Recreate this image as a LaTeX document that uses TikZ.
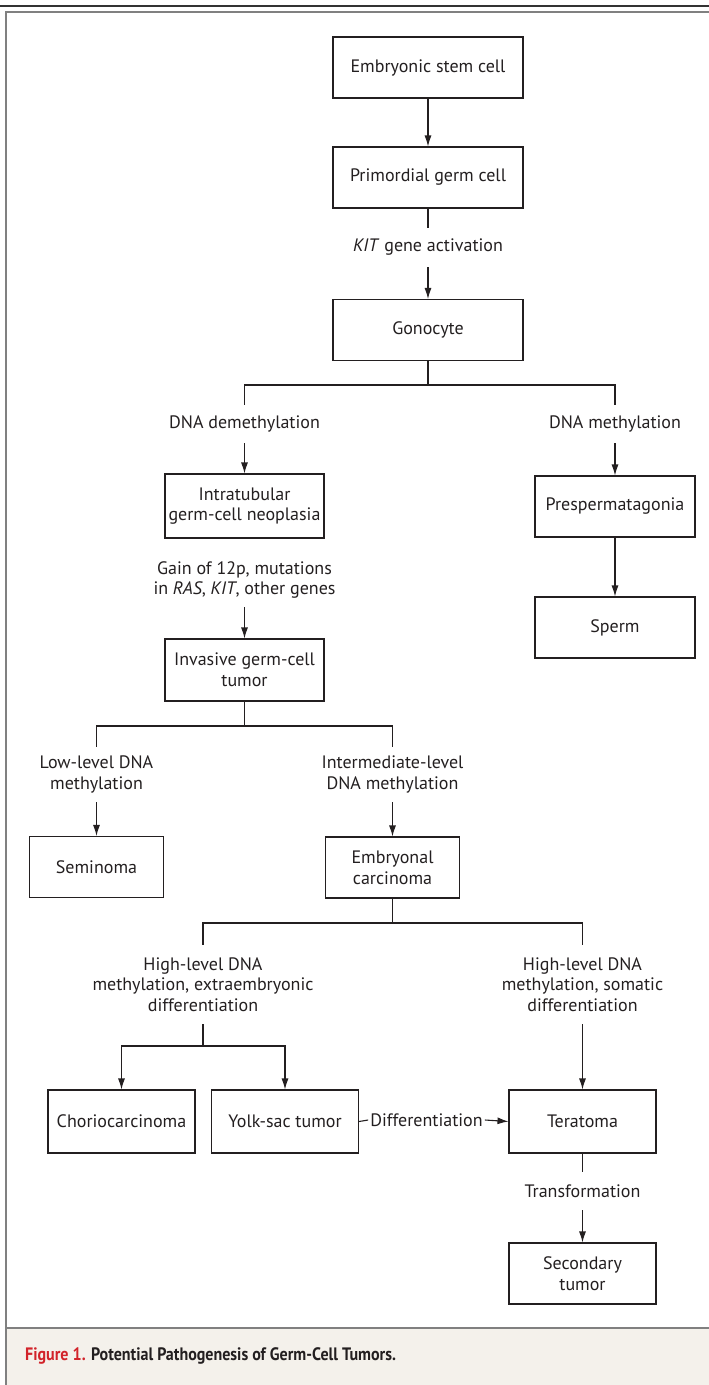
\documentclass[tikz,border=0pt]{standalone}
\usepackage{fontspec}
\setmainfont{PT Sans}
\usetikzlibrary{arrows.meta}
\definecolor{capred}{HTML}{D2232A}
\definecolor{capfill}{HTML}{F4F1EB}
\definecolor{ink}{HTML}{231F20}
\begin{document}
\begin{tikzpicture}[x=1pt, y=-1pt, >={Latex[length=11pt,width=7pt]}]

  \tikzstyle{cell} = [draw=ink, line width=1.1, minimum height=61, inner sep=0, align=center, font=\fontsize{18}{20.7}\selectfont, text=ink]
  \tikzstyle{event} = [inner xsep=2, inner ysep=0, align=center, font=\fontsize{18}{20.7}\selectfont, text=ink]
  \tikzstyle{link} = [draw=ink, line width=1.1]

  \useasboundingbox (0,0) rectangle (709,1385);

  \fill[capfill] (6,1328) rectangle (709,1385);
  \draw[line width=1.5, black!80] (0,6) -- (709,6);
  \draw[line width=2.5, black!50] (6,1385) -- (6,12) -- (709,12);
  \draw[line width=2.5, black!50] (6,1328) -- (709,1328);
  \node[anchor=west, inner sep=0, font=\bfseries\fontsize{18}{20}\selectfont, text=ink] (caption) at (25,1356) {\scalebox{0.89}[1]{\textcolor{capred}{Figure 1.} Potential Pathogenesis of Germ-Cell Tumors.}};

  \node[cell, minimum width=190] (esc) at (428,67.5) {Embryonic stem cell};
  \node[cell, minimum width=190] (pgc) at (428,177.5) {Primordial germ cell};
  \node[cell, minimum width=190] (gono) at (428,330) {Gonocyte};
  \node[cell, minimum width=159, minimum height=64] (itgcn) at (244.5,506) {Intratubular\\germ-cell neoplasia};
  \node[cell, minimum width=160] (presp) at (615,506.5) {Prespermatagonia};
  \node[cell, minimum width=160] (sperm) at (615,627.5) {Sperm};
  \node[cell, minimum width=159, minimum height=62] (igct) at (244.5,670) {Invasive germ-cell\\tumor};
  \node[cell, minimum width=134] (semi) at (96.5,867) {Seminoma};
  \node[cell, minimum width=134] (embca) at (392.5,867.5) {Embryonal\\carcinoma};
  \node[cell, minimum width=147, minimum height=63] (chorio) at (121.5,1121.5) {Choriocarcinoma};
  \node[cell, minimum width=147, minimum height=63] (yolk) at (285,1121.5) {Yolk-sac tumor};
  \node[cell, minimum width=147, minimum height=63] (terat) at (582.5,1121.5) {Teratoma};
  \node[cell, minimum width=147] (sectum) at (582.5,1273.5) {Secondary\\tumor};

  \node[event, minimum height=39] (kitact) at (428,247.5) {\textit{KIT} gene activation};
  \node[event, minimum height=38] (demeth) at (244.5,424) {DNA demethylation};
  \node[event, minimum height=38] (meth) at (615,424) {DNA methylation};
  \node[event, minimum height=54] (gain) at (244.5,580) {Gain of 12p, mutations\\in \textit{RAS}, \textit{KIT}, other genes};
  \node[event, minimum height=55] (lowmeth) at (96.5,774.5) {Low-level DNA\\methylation};
  \node[event, minimum height=55] (midmeth) at (392.5,774.5) {Intermediate-level\\DNA methylation};
  \node[event, minimum height=79] (extra) at (203,984.5) {High-level DNA\\methylation, extraembryonic\\differentiation};
  \node[event, minimum height=79] (somatic) at (582.5,984.5) {High-level DNA\\methylation, somatic\\differentiation};
  \node[event, minimum width=116] (diff) at (426.5,1120) {Differentiation};
  \node[event, minimum height=38] (transf) at (582.5,1191) {Transformation};

  \coordinate (gsplit) at (428,385);
  \coordinate (isplit) at (244.5,726);
  \coordinate (esplit) at (392.5,923);
  \coordinate (xsplit) at (203,1046);

  \draw[link, ->] (esc) -- (pgc);
  \draw[link] (pgc) -- (kitact);
  \draw[link, ->] (kitact) -- (gono);

  \draw[link] (gono) -- (gsplit) -| (demeth);
  \draw[link] (gsplit) -| (meth);
  \draw[link, ->] (demeth) -- (itgcn);
  \draw[link, ->] (meth) -- (presp);
  \draw[link, ->] (presp) -- (sperm);

  \draw[link, ->] (gain) -- (igct);
  \draw[link] (igct) -- (isplit) -| (lowmeth);
  \draw[link] (isplit) -| (midmeth);
  \draw[link, ->] (lowmeth) -- (semi);
  \draw[link, ->] (midmeth) -- (embca);

  \draw[link] (embca) -- (esplit) -| (extra);
  \draw[link] (esplit) -| (somatic);
  \draw[link] (extra) -- (xsplit);
  \draw[link, ->] (xsplit) -| (chorio);
  \draw[link, ->] (xsplit) -| (yolk);
  \draw[link, ->] (somatic) -- (terat);

  \draw[link] (yolk.east) -- (diff.west);
  \draw[link, ->] (diff.east) -- (terat.west);
  \draw[link] (terat) -- (transf);
  \draw[link, ->] (transf) -- (sectum);

\end{tikzpicture}
\end{document}
